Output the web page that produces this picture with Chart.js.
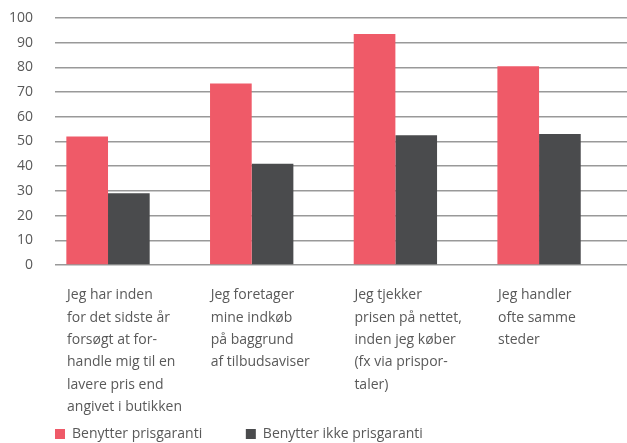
<!DOCTYPE html>
<html>
<head>
<meta charset="utf-8">
<script src="https://cdn.jsdelivr.net/npm/chart.js@4"></script>
<style>
  html, body { margin: 0; padding: 0; background: #fff; }
  #wrap { width: 627px; height: 443px; }
</style>
</head>
<body>
<div id="wrap"><canvas id="prisChart"></canvas></div>
<script>
// data
var categories = [
    ['Jeg har inden', 'for det sidste år', 'forsøgt at for-', 'handle mig til en', 'lavere pris end', 'angivet i butikken'],
    ['Jeg foretager', 'mine indkøb', 'på baggrund', 'af tilbudsaviser'],
    ['Jeg tjekker', 'prisen på nettet,', 'inden jeg køber', '(fx via prispor-', 'taler)'],
    ['Jeg handler', 'ofte samme', 'steder']
];
var seriesNames = ['Benytter prisgaranti', 'Benytter ikke prisgaranti'];
var withGuarantee = [52, 73.5, 93.5, 80.5];
var withoutGuarantee = [29, 41, 52.5, 53];
var yTicks = [0, 10, 20, 30, 40, 50, 60, 70, 80, 90, 100];

var textColor = '#595959';
var fontFamily = '"Open Sans", "Noto Sans", sans-serif';

function toPoints(values) {
    return values.map(function (v, i) { return { x: i, y: v }; });
}

var ctx = document.getElementById('prisChart');

var myChart = new Chart(ctx, {
    type: 'bar',
    data: {
        datasets: [
            {
                label: seriesNames[0],
                data: toPoints(withGuarantee),
                backgroundColor: '#ef5a68',
                categoryPercentage: 0.58,
                barPercentage: 1.0
            },
            {
                label: seriesNames[1],
                data: toPoints(withoutGuarantee),
                backgroundColor: '#4a4b4d',
                categoryPercentage: 0.58,
                barPercentage: 1.0
            }
        ]
    },
    options: {
        responsive: true,
        maintainAspectRatio: false,
        animation: false,
        layout: {
            padding: { top: 18, right: 0, bottom: -8, left: 0 }
        },
        scales: {
            x: {
                type: 'linear',
                offset: false,
                min: -0.369,
                max: 3.612,
                grid: { display: false },
                border: { display: false },
                afterBuildTicks: function (scale) {
                    scale.ticks = categories.map(function (c, i) { return { value: i }; });
                },
                afterFit: function (scale) {
                    scale.height = 162;
                    scale.paddingLeft = 0;
                    scale.paddingRight = 0;
                },
                ticks: {
                    autoSkip: false,
                    maxRotation: 0,
                    align: 'start',
                    labelOffset: -41,
                    padding: 11,
                    color: textColor,
                    font: { family: fontFamily, size: 14, lineHeight: 1.6 },
                    callback: function (value) {
                        return categories[value];
                    }
                }
            },
            y: {
                min: 0,
                max: 100,
                afterBuildTicks: function (scale) {
                    scale.ticks = yTicks.map(function (v) { return { value: v }; });
                },
                afterFit: function (scale) {
                    scale.width = 55;
                    scale.paddingTop = 0;
                    scale.paddingBottom = 0;
                },
                grid: {
                    color: '#999999',
                    lineWidth: 1.5,
                    drawTicks: false
                },
                border: { display: false },
                ticks: {
                    padding: 22,
                    color: textColor,
                    font: { family: fontFamily, size: 14 }
                }
            }
        },
        plugins: {
            legend: {
                display: true,
                position: 'bottom',
                align: 'start',
                fullSize: false,
                labels: {
                    boxWidth: 10,
                    boxHeight: 10,
                    padding: 0,
                    color: textColor,
                    font: { family: fontFamily, size: 14 },
                    generateLabels: function (chart) {
                        var items = Chart.defaults.plugins.legend.labels.generateLabels(chart);
                        // widen the first entry so the second one sits further right
                        items[0].text = items[0].text + '            ';
                        return items;
                    }
                }
            },
            tooltip: { enabled: false }
        }
    }
});
</script>
</body>
</html>
